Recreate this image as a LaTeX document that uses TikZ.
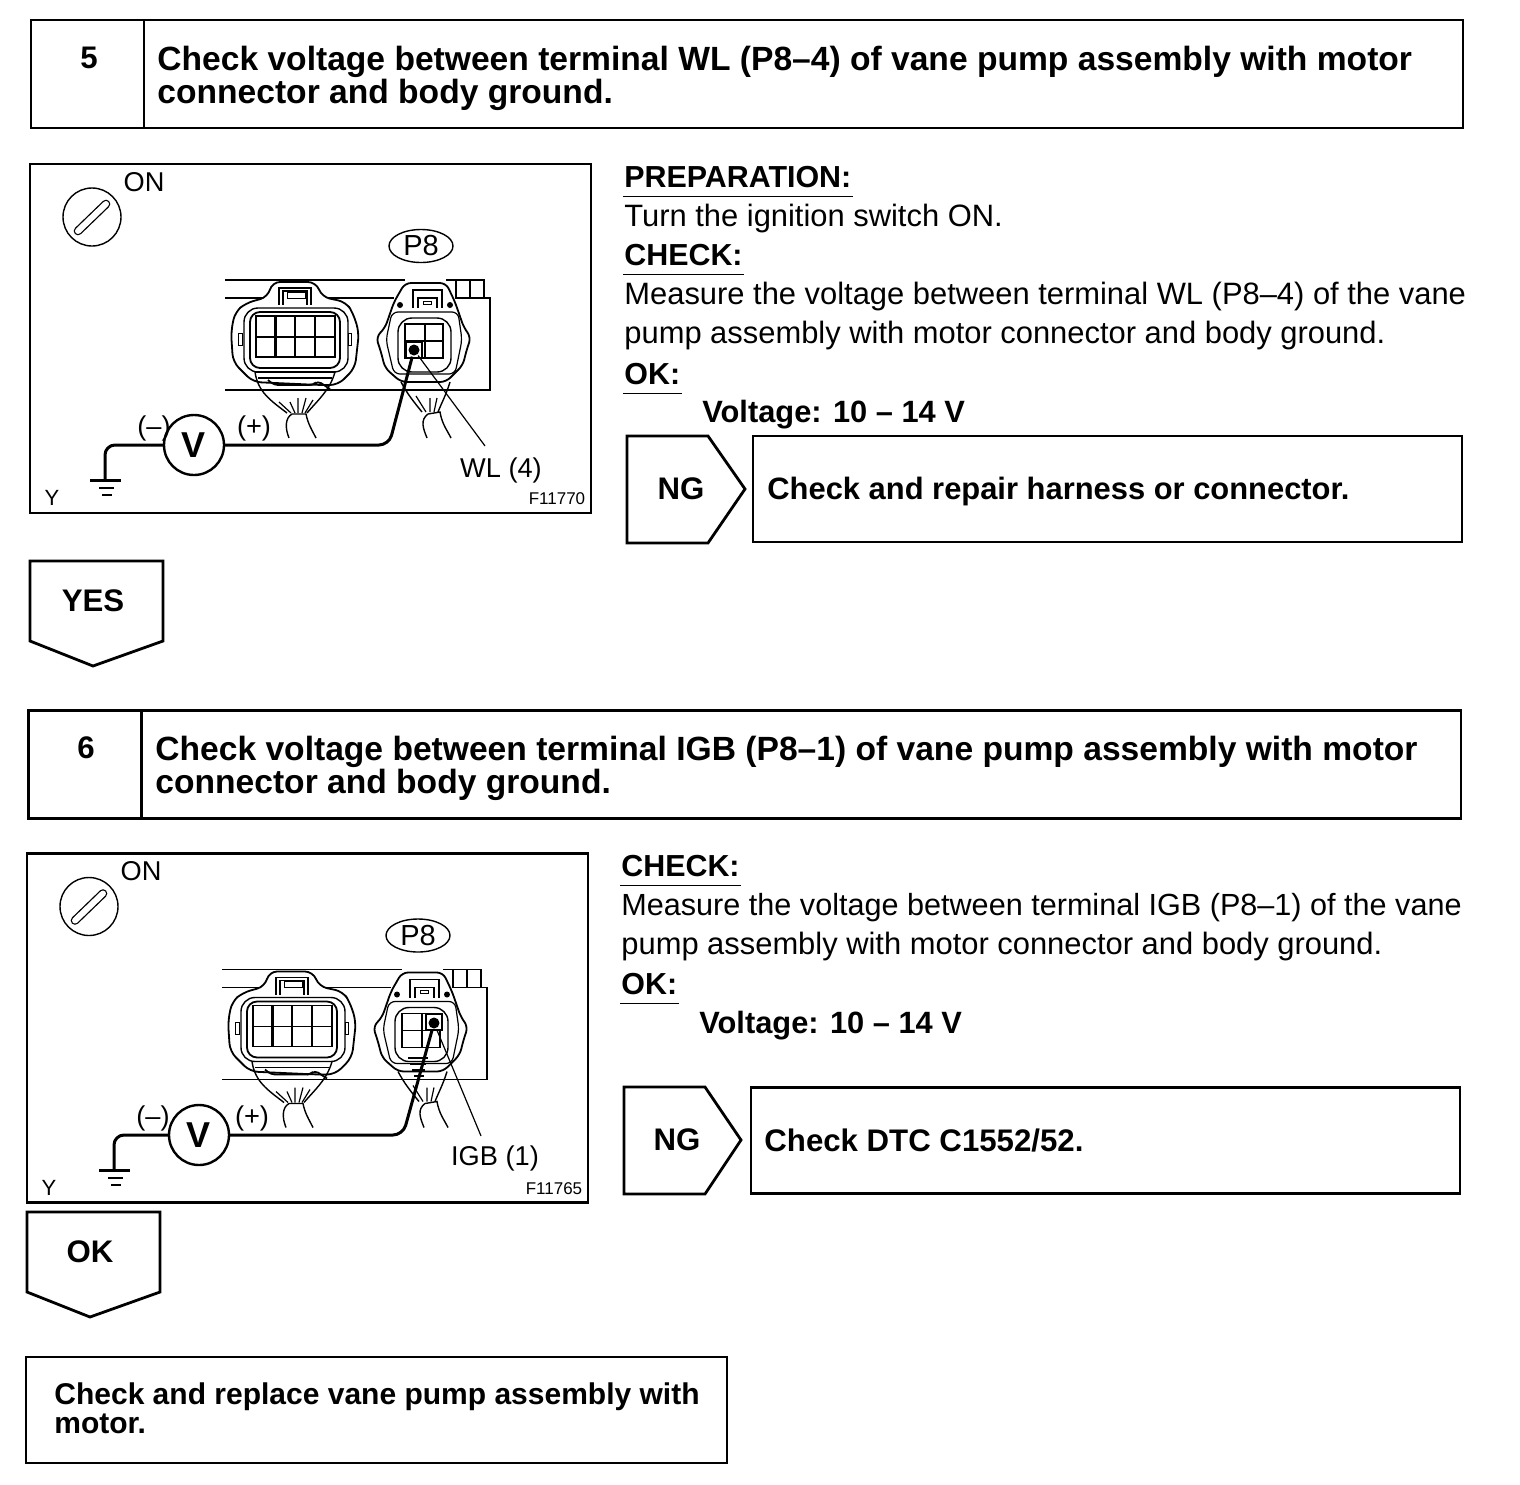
\documentclass[tikz,border=0pt]{standalone}
\usepackage{fontspec}
\usetikzlibrary{shapes.geometric}
\setmainfont{Liberation Sans}

\newcommand{\titlefont}{\fontsize{16.8}{16.5}\selectfont\bfseries}
\newcommand{\flagfont}{\fontsize{15.6}{16.5}\selectfont\bfseries}
\newcommand{\bodyfont}{\fontsize{15.45}{19.5}\selectfont}
\newcommand{\labfont}{\fontsize{13.6}{14}\selectfont}

\begin{document}
\begin{tikzpicture}[x=0.5pt, y=-0.5pt, line width=1.4pt, font=\bodyfont]
\tikzset{
  numcell/.style={draw, minimum width=56.5pt, minimum height=54pt, inner sep=0pt},
  titlecell/.style={draw, minimum width=659.5pt, minimum height=54pt, inner sep=0pt},
  actioncell/.style={draw, minimum width=354.5pt, minimum height=53pt, inner sep=0pt},
  endcell/.style={draw, minimum width=350.5pt, minimum height=53pt, inner sep=0pt},
  titlelab/.style={anchor=west, align=left, font=\titlefont, inner sep=0pt},
  actionlab/.style={anchor=base west, font=\flagfont, inner sep=0pt},
  endlab/.style={anchor=west, align=left, font=\fontsize{15}{14.5}\selectfont\bfseries, inner sep=0pt},
  panelbox/.style={draw, line width=1.3pt, minimum width=280.5pt, minimum height=174.5pt, inner sep=0pt},
  headlab/.style={anchor=base west, font=\fontsize{15.2}{19.5}\selectfont\bfseries, inner xsep=0pt, inner ysep=4pt, text depth=0pt},
  bodylab/.style={anchor=base west, inner sep=0pt},
  valuelab/.style={anchor=base west, font=\fontsize{15.4}{19.5}\selectfont\bfseries, inner sep=0pt},
  flaglab/.style={font=\flagfont, inner sep=0pt},
  flagline/.style={draw, line width=1.4pt},
  plainlab/.style={font=\labfont, inner sep=0pt},
  smalllab/.style={font=\fontsize{8.5}{9}\selectfont, inner sep=0pt},
  ylab/.style={font=\fontsize{11}{12}\selectfont, inner sep=0pt},
  voltc/.style={draw, circle, line width=1.2pt, fill=white, minimum size=30pt, inner sep=0pt, font=\fontsize{18}{18}\selectfont\bfseries},
  probe/.style={line width=1.5pt, rounded corners=5pt},
  leader/.style={line width=0.6pt},
  termsq/.style={draw, line width=1.2pt, fill=white, minimum size=8pt, inner sep=0pt},
  termdot/.style={circle, fill=black, minimum size=5.5pt, inner sep=0pt},
  ovalc/.style={draw, ellipse, line width=0.7pt, minimum width=32pt, minimum height=16.5pt, inner sep=0pt, font=\fontsize{14.5}{15}\selectfont},
  keyc/.style={draw, circle, line width=0.7pt, minimum size=29pt, inner sep=0pt},
  pics/connpair/.style={code={
    % engine bay strip behind the two plugs
    \draw[line width=0.7pt] (225,280) -- (405,280);
    \draw[line width=0.7pt] (225,298) -- (264,298) (324,298) -- (394,298) (455,298) -- (490,298) -- (490,390) -- (225,390);
    \draw[line width=0.6pt] (446,280) -- (484,280) -- (484,298) (456,280) -- (456,298) (470,280) -- (470,298);
    % left plug
    \draw[line width=0.9pt, fill=white, rounded corners=4pt] (272,282) -- (316,282) -- (322,297) -- (346,302) -- (353,313) -- (359,332) -- (355,368) -- (338,385) -- (320,385) -- (253,382) -- (233,362) -- (231,332) -- (235,312) -- (246,303) -- (268,297) -- cycle;
    \draw[line width=0.7pt, rounded corners=7pt] (244,308) rectangle (348,372);
    \draw[line width=0.9pt, rounded corners=5pt] (250,312) rectangle (340,368);
    \draw[line width=0.7pt] (279,305) -- (279,288) -- (311,288) -- (311,305) (283,305) -- (283,291) -- (307,291) -- (307,305);
    \draw[line width=0.5pt] (287,292) rectangle (305,298);
    \draw[line width=0.5pt] (238,333) rectangle (242,345) (348,333) rectangle (351,345);
    \draw[line width=0.8pt] (256,316) rectangle (335,357);
    \draw[line width=1.3pt] (275.5,316) -- (275.5,357) (315,316) -- (315,357);
    \draw[line width=0.7pt] (295,316) -- (295,357) (256,337) -- (335,337);
    \draw[line width=0.7pt] (255,372) -- (335,372) (258,378) -- (332,378);
    \draw[line width=0.9pt, rounded corners=2pt] (268,380) -- (274,385) -- (313,385) -- (318,381) -- (330,389);
    \draw[line width=0.7pt] (255,372) .. controls (258,392) and (270,400) .. (287,413);
    \draw[line width=0.7pt] (335,372) .. controls (330,390) and (318,400) .. (307,413);
    \draw[line width=0.6pt] (279,402) -- (291,413) (290,402) -- (295,413) (298,398) -- (298,413) (306,398) -- (302,413) (313,400) -- (305,413);
    \draw[line width=0.7pt] (289,438) .. controls (285,428) and (285,418) .. (292,414) -- (306,414) .. controls (308,424) and (312,430) .. (316,438);
    % right plug, the one under test
    \draw[line width=0.9pt, fill=white, rounded corners=3pt] (405,283) -- (446,283) -- (455,302) -- (464,328) -- (471,337) -- (466,352) -- (463,365) -- (446,382) -- (401,382) -- (385,368) -- (381,352) -- (376,337) -- (385,328) -- (394,302) -- cycle;
    \draw[line width=0.7pt, rounded corners=7pt] (398,318) rectangle (451,372);
    \draw[line width=0.6pt, rounded corners=3pt] (392,312) -- (458,312) -- (462,340) -- (455,374) -- (394,374) -- (386,340) -- cycle;
    \draw[line width=0.8pt] (405,324) rectangle (443,358);
    \draw[line width=0.7pt] (425,324) -- (425,358) (405,341) -- (443,341);
    \draw[line width=0.7pt] (413,308) -- (413,290) -- (442,290) -- (442,308) (418,308) -- (418,298) -- (437,298) -- (437,308);
    \draw[line width=0.5pt] (423,301) rectangle (431,304);
    \fill (400,305) circle (1.5pt) (450,305) circle (1.5pt);
    \draw[line width=0.7pt] (401,382) .. controls (408,395) and (414,402) .. (422,412);
    \draw[line width=0.7pt] (450,382) .. controls (446,395) and (442,402) .. (438,412);
    \draw[line width=0.6pt] (416,396) -- (426,412) (430,398) -- (430,412) (437,398) -- (434,412);
    \draw[line width=0.7pt] (427,438) .. controls (423,428) and (420,420) .. (428,414) -- (440,412) .. controls (442,424) and (447,430) .. (451,438);
  }}
}

% step 5
\node[numcell] (n5) at (87.5,74) {};
\node[titlecell] (t5) at (803.5,74) {};
\node[flaglab] (num5) at (89,58) {5};
\node[titlelab] (tx5) at (156,78) {Check voltage between terminal WL (P8--4) of vane pump assembly with motor\\connector and body ground.};

\node[panelbox] (p5) at (310.5,338.5) {};
\node[keyc] (key5) at (92,217) {};
\draw[line width=4.3pt, line cap=round] (78,231) -- (106,204);
\draw[line width=3pt, line cap=round, white] (78,231) -- (106,204);
\node[plainlab] (on5) at (144,182) {ON};
\node[ovalc] (oval5) at (421,246) {P8};
\pic (cp5) at (0,0) {connpair};
\node[termsq] (sq5) at (414,350) {};
\node[termdot] (dot5) at (414,350) {};
\node[voltc] (v5) at (194,445) {V};
\coordinate (g5) at (105,480);
\draw[probe] (v5.west) -| (g5);
\draw[probe] (v5.east) -- (389,445) -- (dot5);
\draw[line width=1.5pt] (g5) ++(-15,0) -- ++(31,0);
\draw[line width=0.7pt] (g5) ++(-6,8) -- ++(15,0) ++(-12,7) -- ++(10,0);
\node[plainlab] (neg5) at (154,428) {(--)};
\node[plainlab] (pos5) at (254,428) {(+)};
\node[plainlab] (wl5) at (501,470) {WL (4)};
\draw[leader] (dot5) -- ([xshift=-8pt, yshift=5pt]wl5.north);
\node[ylab] (y5) at (52,498) {Y};
\node[smalllab] (f5) at (557,499) {F11770};

\node[headlab] (h51) at (623,187) {PREPARATION:};
\draw[line width=0.6pt] (h51.south west) -- (h51.south east);
\node[bodylab] (b51) at (623,226.5) {Turn the ignition switch ON.};
\node[headlab] (h52) at (623,265) {CHECK:};
\draw[line width=0.6pt] (h52.south west) -- (h52.south east);
\node[bodylab] (b52) at (623,304.5) {Measure the voltage between terminal WL (P8--4) of the vane};
\node[bodylab] (b53) at (623,343.5) {pump assembly with motor connector and body ground.};
\node[headlab] (h53) at (623,384) {OK:};
\draw[line width=0.6pt] (h53.south west) -- (h53.south east);
\node[valuelab] (b54) at (701,422.5) {Voltage: 10 -- 14 V};

\draw[flagline] (627,436) -- (708,436) -- (745,489) -- (708,543) -- (627,543) -- cycle;
\node[flaglab] (ng5) at (681,489) {NG};
\node[actioncell] (a5) at (1107.5,489) {};
\node[actionlab, font=\fontsize{15.45}{16}\selectfont\bfseries] (ax5) at (766,499) {Check and repair harness or connector.};

\draw[flagline] (30,561) -- (163,561) -- (163,641) -- (93,666) -- (30,641) -- cycle;
\node[flaglab] (yes5) at (93,601) {YES};

% step 6
\node[numcell] (n6) at (85,764.5) {};
\node[titlecell] (t6) at (801.5,764.5) {};
\node[flaglab] (num6) at (86,748) {6};
\node[titlelab] (tx6) at (154,768) {Check voltage between terminal IGB (P8--1) of vane pump assembly with motor\\connector and body ground.};

\node[panelbox] (p6) at (307.5,1028) {};
\node[keyc] (key6) at (89,906.5) {};
\draw[line width=4.3pt, line cap=round] (75,920.5) -- (103,893.5);
\draw[line width=3pt, line cap=round, white] (75,920.5) -- (103,893.5);
\node[plainlab] (on6) at (141,871.5) {ON};
\node[ovalc] (oval6) at (418,935.5) {P8};
\pic (cp6) at (-3,689.5) {connpair};
\draw[line width=0.6pt] (408,1058) -- (428,1058) (410,1064) -- (426,1064) (412,1070) -- (425,1070) (414,1076) -- (424,1076);
\node[termsq] (sq6) at (434,1022) {};
\node[termdot] (dot6) at (434,1023) {};
\node[voltc] (v6) at (199,1135) {V};
\coordinate (g6) at (114,1170);
\draw[probe] (v6.west) -| (g6);
\draw[probe] (v6.east) -- (403,1135) -- (dot6);
\draw[line width=1.5pt] (g6) ++(-15,0) -- ++(31,0);
\draw[line width=0.7pt] (g6) ++(-6,8) -- ++(15,0) ++(-12,7) -- ++(10,0);
\node[plainlab] (neg6) at (153,1118) {(--)};
\node[plainlab] (pos6) at (252,1118) {(+)};
\node[plainlab] (igb6) at (495,1158) {IGB (1)};
\draw[leader] (dot6) -- ([xshift=-7pt, yshift=4pt]igb6.north);
\node[ylab] (y6) at (49,1188) {Y};
\node[smalllab] (f6) at (554,1189) {F11765};

\node[headlab] (h61) at (620,876) {CHECK:};
\draw[line width=0.6pt] (h61.south west) -- (h61.south east);
\node[bodylab, font=\fontsize{15.3}{19.5}\selectfont] (b61) at (620,915.5) {Measure the voltage between terminal IGB (P8--1) of the vane};
\node[bodylab] (b62) at (620,954.5) {pump assembly with motor connector and body ground.};
\node[headlab] (h62) at (620,994) {OK:};
\draw[line width=0.6pt] (h62.south west) -- (h62.south east);
\node[valuelab] (b63) at (698,1033.5) {Voltage: 10 -- 14 V};

\draw[flagline] (624,1087) -- (705,1087) -- (741,1140) -- (705,1194) -- (624,1194) -- cycle;
\node[flaglab] (ng6) at (677,1140) {NG};
\node[actioncell] (a6) at (1105.5,1140.5) {};
\node[actionlab] (ax6) at (763,1151) {Check DTC C1552/52.};

\draw[flagline] (27,1212) -- (160,1212) -- (160,1292) -- (90,1317) -- (27,1292) -- cycle;
\node[flaglab] (ok6) at (90,1252) {OK};

\node[endcell] (e6) at (376.5,1410) {};
\node[endlab] (ex6) at (53,1408) {Check and replace vane pump assembly with\\motor.};

\useasboundingbox (0,0) rectangle (1520,1484);
\end{tikzpicture}
\end{document}
